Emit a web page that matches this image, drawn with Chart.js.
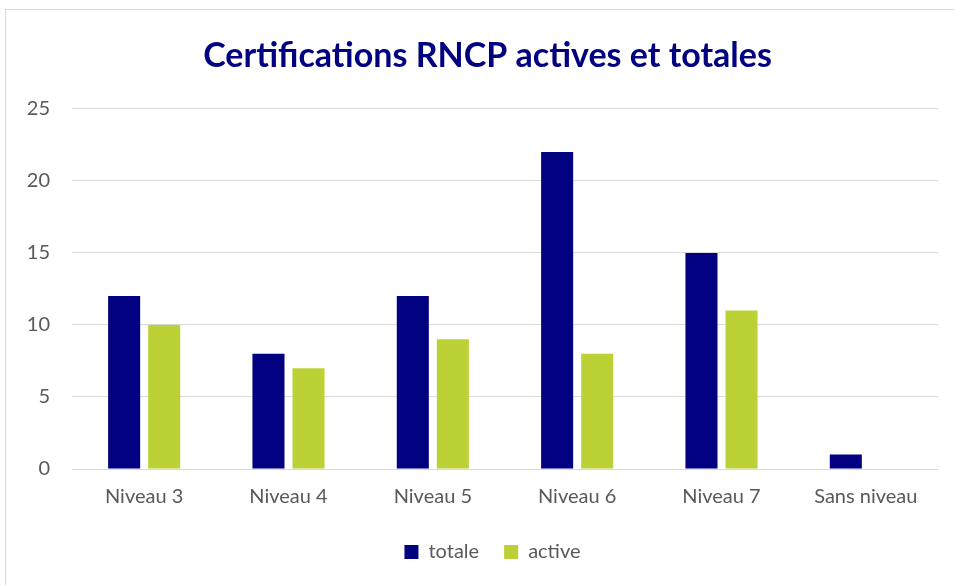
<!DOCTYPE html>
<html>
<head>
<meta charset="utf-8">
<script src="https://cdn.jsdelivr.net/npm/chart.js@4"></script>
<style>
  html, body { margin: 0; padding: 0; background: #fff; }
  #frame {
    position: absolute; left: 5px; top: 9px; width: 960px; height: 600px;
    border: 1px solid #d9d9d9; box-sizing: border-box;
  }
  #wrap { position: absolute; left: 0; top: 0; width: 954px; height: 585px; }
</style>
</head>
<body>
<div id="frame"></div>
<div id="wrap"><canvas id="chart"></canvas></div>
<script>
const niveaux = ['Niveau 3', 'Niveau 4', 'Niveau 5', 'Niveau 6', 'Niveau 7', 'Sans niveau'];
const totale = [12, 8, 12, 22, 15, 1];
const active = [10, 7, 9, 8, 11, 0];
const yTicks = [0, 5, 10, 15, 20, 25];

const font = "Lato, 'Open Sans', 'Liberation Sans', sans-serif";

// nudge title and legend so they sit centred over the whole frame, not just the plot
const centreBlocks = {
    id: 'centreBlocks',
    afterLayout(chart) {
        if (chart.titleBlock) chart.titleBlock.left += 24;
        if (chart.legend) chart.legend.left += 34;
    }
};

new Chart(document.getElementById('chart'), {
    type: 'bar',
    data: {
        labels: niveaux,
        datasets: [
            { label: 'totale', data: totale, backgroundColor: '#000080',
              categoryPercentage: 0.555, barPercentage: 0.8 },
            { label: 'active', data: active, backgroundColor: '#bcd135',
              categoryPercentage: 0.555, barPercentage: 0.8 }
        ]
    },
    plugins: [centreBlocks],
    options: {
        responsive: true,
        maintainAspectRatio: false,
        animation: false,
        layout: { padding: { left: 13, right: 16, top: 36, bottom: 13 } },
        plugins: {
            title: {
                display: true,
                text: 'Certifications RNCP actives et totales',
                color: '#000080',
                font: { family: font, size: 34, weight: 'bold' },
                padding: { top: 0, bottom: 32 }
            },
            legend: {
                position: 'bottom',
                labels: {
                    color: '#595959',
                    font: { family: font, size: 20 },
                    boxWidth: 14, boxHeight: 14,
                    padding: 25
                }
            },
            tooltip: { enabled: false }
        },
        scales: {
            x: {
                grid: { display: false },
                border: { color: '#d9d9d9' },
                ticks: { color: '#595959', font: { family: font, size: 20 }, padding: 8 }
            },
            y: {
                min: 0, max: 25,
                afterBuildTicks: axis => { axis.ticks = yTicks.map(v => ({ value: v })); },
                afterFit: axis => { axis.width = 59; },
                grid: { color: '#d9d9d9', drawTicks: false },
                border: { display: false },
                ticks: { color: '#595959', font: { family: font, size: 20 }, padding: 22 }
            }
        }
    }
});
</script>
</body>
</html>
